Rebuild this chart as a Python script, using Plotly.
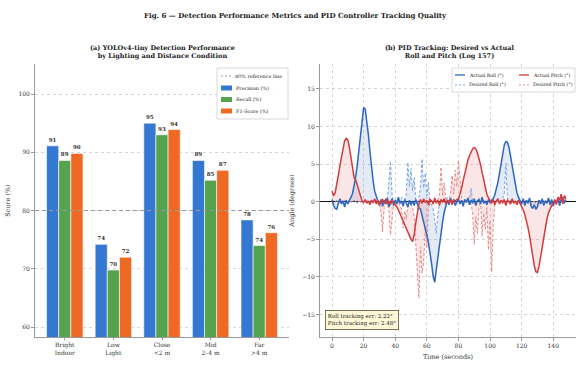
import plotly.graph_objects as go

# ---------------- data: detection metrics ----------------
conditions = ["Bright<br>Indoor", "Low<br>Light", "Close<br>&lt;2 m", "Mid<br>2–4 m", "Far<br>&gt;4 m"]
precision = [91.1, 74.2, 95.0, 88.6, 78.4]
recall = [88.6, 69.8, 93.0, 85.2, 74.0]
f1_score = [89.8, 72.0, 93.9, 86.9, 76.2]
reference_level = 80

# ---------------- data: PID tracking log (1 s samples) ----------------
time_s = list(range(0, 149))
actual_roll = [
    0.3, -0.5, -0.9, -1.0, -0.2, 0.4, -0.3, 0.1, -0.7, 0.2, -0.3, 0.3,
    0.6, 1.1, 2.0, 3.3, 4.9, 7.0, 9.3, 11.3, 12.5, 12.3, 10.8, 8.9, 6.7, 4.5, 2.8, 1.4, 0.6, 0.1,
    -0.4, 0.3, -0.6, 0.2, -0.3, 0.5, -0.7, -0.1, 0.4, -0.5, 0.2, -0.3, 0.6, -0.2, 0.1, -0.6,
    0.3, -0.2, -0.7, 0.2, -0.4, 0.1, -0.5, 0.3, -0.3, -0.8,
    -1.0, -1.8, -2.6, -3.5, -4.4, -5.4, -6.6, -8.2, -9.9, -10.7, -9.0, -7.2, -5.6, -4.0, -2.6, -1.4, -0.6,
    0.2, -0.4, 0.5, -0.2, 0.3, -0.5, 0.1, 0.4, -0.3, 0.2, -0.6, 0.3, -0.1, 0.5, -0.4, 0.2,
    -0.2, 0.4, -0.5, 0.1, 0.3, -0.3, 0.6, -0.2, 0.1, -0.4, 0.3, -0.1, 0.2,
    0.4, 0.9, 1.6, 2.6, 3.8, 5.2, 6.5, 7.5, 8.0, 7.9, 7.2, 6.0, 4.6, 3.3, 2.1, 1.2, 0.6, 0.2,
    -0.3, 0.4, -0.5, 0.2, -0.2, 0.5, -0.6, -0.9, -0.4, -1.0, -0.7, 0.2, -0.3, 0.4, -0.5,
    0.1, -0.2, 0.5, -0.4, 0.3, -0.6, 0.2, -0.1, 0.4, -0.5, 0.3, 0.6, -0.2, 0.3,
]
actual_pitch = [
    1.4, 0.8, 1.2, 2.2, 3.5, 4.8, 6.1, 7.3, 8.1, 8.4, 8.2, 7.2, 5.7, 4.3, 3.2, 2.9, 2.2, 1.2, 0.5, 0.1, -0.1,
    0.3, -0.2, 0.1, -0.4, 0.2, -0.1, 0.4, -0.3, 0.2, -0.5, 0.1, 0.3, -0.2, 0.4, -0.3, 0.1, -0.4, 0.2, -0.1,
    -0.3, -0.7, -1.1, -1.6, -2.1, -2.6, -3.0, -3.4, -3.9, -4.5, -5.0, -5.3, -4.4, -2.8, -1.2, -0.3,
    0.3, -0.2, 0.4, -0.1, 0.2, -0.4, 0.3, 0.1, -0.3, 0.5, -0.2, 0.2, -0.5, 0.3, 0.0, 0.4,
    -0.3, 0.2, -0.1, 0.3, -0.4, 0.2, 0.1, 0.3,
    0.3, 0.9, 1.8, 2.8, 3.8, 4.7, 5.5, 6.1, 6.6, 7.0, 7.2, 7.0, 6.5, 5.8, 4.9, 3.9, 2.8, 1.8, 1.0, 0.5, 0.2,
    -0.2, 0.3, -0.4, 0.1, 0.4, -0.3, 0.2, -0.1, 0.3, -0.5, 0.2, 0.0, -0.3, 0.4, -0.2, 0.1, -0.4, 0.2,
    -0.2, -0.6, -1.1, -1.7, -2.5, -3.4, -4.5, -5.9, -7.3, -8.5, -9.3, -9.4, -8.6, -7.4, -6.0, -4.6,
    -3.3, -2.3, -1.5, -0.9, -0.5, -0.2,
    0.3, -0.4, 0.6, 0.2, 1.0, -0.3, 0.8, 0.4,
]
desired_roll = [
    0.1, -0.2, 0.0, 0.2, -0.1, 0.1, 0.0, -0.2, 0.1, 0.2, -0.1, 0.0, 0.1, -0.1, 0.2, 0.0, -0.2, 0.1,
    0.0, 0.1, -0.1, 0.2, 0.0, -0.1, 0.1, 0.0, -0.2, 0.1, 0.2, -0.1, 0.0, 0.1, -0.3, 0.2, 0.0, 0.4,
    2.5, 5.4, 1.0,
    -0.2, 0.3, 0.0, -0.1, 0.2, 0.6, -0.2, 0.1,
    1.0, 5.2, 2.0, 4.4, 1.5, 3.2, 0.3,
    -0.4, 0.5,
    2.0, 5.7, 1.8, 3.8, 0.8, 2.6, -0.5,
    -0.3, -1.0, -2.5, -4.2, -1.5, -0.3,
    0.2, -0.1, 0.3, 0.0, 0.6, -0.2, 0.1, 0.0, -0.1, 0.2, 0.0, 0.1, -0.2, 0.1, 0.0, 0.2, -0.1, 0.0, 0.3,
    1.8,
    0.0, -0.2, 0.1, 0.0, 0.2, -0.1, 0.1, 0.0, -0.2, 0.1, 0.2, 0.0, -0.1, 0.1, 0.0, 0.2, -0.1, 0.0, 0.1, 0.4,
    1.0, 5.1, 0.5,
    -0.1, 0.2, 0.0, -0.1, 0.1, 0.0, 0.2, -0.2, 0.1, 0.0, -0.1, 0.1, 0.0, 0.2, -0.1, 0.0, 0.1, -0.2,
    0.0, 0.1, 0.0, -0.1, 0.2, 0.0, 0.1, -0.1, 0.0, 0.2, -0.1, 0.0, 0.1, 0.0, -0.2, 0.1, 0.0, 0.1, 0.0,
]
desired_pitch = [
    0.0, 0.2, -0.1, 0.1, 0.0, -0.2, 0.1, 0.0, 0.2, -0.1, 0.0, 0.1, -0.1, 0.0, 0.2, 0.0, -0.1, 0.1,
    0.0, -0.2, 0.1, 0.0, 0.1, -0.1, 0.0, 0.2, -0.1, 0.0, 0.1, -0.3, -0.2,
    -1.5, -4.0, -0.8,
    0.2, -0.3,
    -1.2, -4.4, -2.0, -0.3,
    0.1, -0.2, 0.0, -0.4,
    -1.0, -3.5, -1.2, -2.4, -0.4,
    0.1, -0.3, -0.8,
    -2.0, -5.5, -9.0, -12.8, -6.0, -9.5, -8.0, -3.5, -6.2, -1.0, -0.2,
    0.1, -0.1, 0.2, 0.0, 0.3,
    1.0, 4.6, 0.8, 2.5, 0.3,
    -0.1, 0.2,
    1.2, 3.5, 1.0, 4.2, 2.0, 5.5, 2.9, 0.5,
    0.0, -0.2, 0.1, 0.0, -0.1, -0.3,
    -1.5, -5.7, -2.0, -4.2, -0.8, 0.1, -4.6, -1.5, -3.7, -0.8, -6.4, -2.5, -9.3, -3.0, -0.3,
    0.1, 0.0, -0.1, 0.2, 0.0, -0.2, 0.1, 0.0, 0.1, -0.1, 0.0, 0.2, -0.1, 0.0, 0.1, -0.2, 0.0, 0.1,
    0.0, -0.1, 0.2, 0.0, -0.1, 0.1, 0.0, -0.2, 0.1, 0.0, 0.2, -0.1, 0.0, 0.1, -0.1, 0.0, 0.2, -0.3,
    0.1, 0.0, -0.2, 0.1, 0.0, 0.2, -0.1, 0.0, 0.1,
]
roll_err_deg = 2.22
pitch_err_deg = 2.48

# ---------------- styling ----------------
FONT = "DejaVu Serif"
TXT = "#333333"
C_PREC, C_REC, C_F1 = "#3478d1", "#55a24f", "#ee6a24"
C_ROLL, C_PITCH = "#2c68c0", "#d63a3a"
C_ROLL_D, C_PITCH_D = "#7aa6de", "#e88a8a"
W, H = 576, 367


def px(x):
    return x / W


def py(y):
    return 1 - y / H


fig = go.Figure()

# ---- panel (a): grouped bars ----
for name, vals, col in [("Precision (%)", precision, C_PREC),
                        ("Recall (%)", recall, C_REC),
                        ("F1-Score (%)", f1_score, C_F1)]:
    fig.add_trace(go.Bar(
        x=conditions, y=vals, name=name, marker=dict(color=col, line=dict(color="white", width=0.6)),
        texttemplate="<b>%{y:.0f}</b>", textposition="outside", cliponaxis=False,
        textfont=dict(size=5.5, color=TXT, family=FONT),
        xaxis="x", yaxis="y", showlegend=False,
    ))

fig.add_shape(type="line", xref="x domain", yref="y", x0=0, x1=1,
              y0=reference_level, y1=reference_level,
              line=dict(color="#9a9a9a", width=1, dash="4px,3px"))

# ---- panel (b): tracking traces ----
fills = [(desired_roll, actual_roll, "rgba(44,104,192,0.13)"),
         (desired_pitch, actual_pitch, "rgba(214,58,58,0.13)")]
for des, act, fc in fills:
    fig.add_trace(go.Scatter(x=time_s, y=des, mode="lines", line=dict(width=0),
                             xaxis="x2", yaxis="y2", showlegend=False, hoverinfo="skip"))
    fig.add_trace(go.Scatter(x=time_s, y=act, mode="lines", line=dict(width=0), fill="tonexty",
                             fillcolor=fc, xaxis="x2", yaxis="y2", showlegend=False, hoverinfo="skip"))

fig.add_trace(go.Scatter(x=time_s, y=desired_roll, mode="lines", name="Desired Roll (°)",
                         line=dict(color=C_ROLL_D, width=1, dash="3px,2px"),
                         xaxis="x2", yaxis="y2", showlegend=False))
fig.add_trace(go.Scatter(x=time_s, y=desired_pitch, mode="lines", name="Desired Pitch (°)",
                         line=dict(color=C_PITCH_D, width=1, dash="3px,2px"),
                         xaxis="x2", yaxis="y2", showlegend=False))
fig.add_trace(go.Scatter(x=time_s, y=actual_roll, mode="lines", name="Actual Roll (°)",
                         line=dict(color=C_ROLL, width=1.5),
                         xaxis="x2", yaxis="y2", showlegend=False))
fig.add_trace(go.Scatter(x=time_s, y=actual_pitch, mode="lines", name="Actual Pitch (°)",
                         line=dict(color=C_PITCH, width=1.5),
                         xaxis="x2", yaxis="y2", showlegend=False))

# ---------------- axes ----------------
tickfont = dict(size=6, color=TXT, family=FONT)
titlefont = dict(size=6.5, color=TXT, family=FONT)
grid = dict(showgrid=True, gridcolor="#d6d6d6", gridwidth=0.8, griddash="dot")
spine = dict(showline=True, linecolor="#9a9a9a", linewidth=0.9, mirror=False)

fig.update_layout(
    xaxis=dict(domain=[px(35), px(289)], range=[-0.6125, 4.6125], tickfont=tickfont,
               showgrid=False, ticks="outside", ticklen=2, tickcolor="#9a9a9a", **spine),
    yaxis=dict(domain=[py(337), py(64)], range=[58.3, 105.15], tickvals=[60, 70, 80, 90, 100],
               tickfont=tickfont, ticks="outside", ticklen=3, tickcolor="#9a9a9a",
               title=dict(text="Score (%)", font=titlefont, standoff=7), zeroline=False,
               **grid, **spine),
    xaxis2=dict(domain=[px(320), 1.0], range=[-7.6, 154.4], tickvals=list(range(0, 141, 20)),
                tickfont=tickfont, ticks="outside", ticklen=3, tickcolor="#9a9a9a",
                title=dict(text="Time (seconds)", font=titlefont, standoff=6), zeroline=False,
                anchor="y2", **grid, **spine),
    yaxis2=dict(domain=[py(337), py(64)], range=[-17.97, 18.29], tickvals=[-15, -10, -5, 0, 5, 10, 15],
                tickfont=tickfont, ticks="outside", ticklen=3, tickcolor="#9a9a9a",
                title=dict(text="Angle (degrees)", font=titlefont, standoff=6),
                zeroline=True, zerolinecolor="#111111", zerolinewidth=1,
                anchor="x2", **grid, **spine),
    barmode="group", bargap=0.25, bargroupgap=0.0,
    width=W, height=H, autosize=False,
    margin=dict(l=0, r=0, t=0, b=0),
    paper_bgcolor="white", plot_bgcolor="white",
    font=dict(family=FONT, color=TXT),
    showlegend=False,
)

# ---------------- titles ----------------
annotations = [
    dict(text="<b>Fig. 6 — Detection Performance Metrics and PID Controller Tracking Quality</b>",
         x=px(295), y=py(15), font=dict(size=7, family=FONT, color="#222")),
    dict(text="<b>(a) YOLOv4-tiny Detection Performance<br>by Lighting and Distance Condition</b>",
         x=px(162), y=py(52), font=dict(size=6.5, family=FONT, color="#222")),
    dict(text="<b>(b) PID Tracking: Desired vs Actual<br>Roll and Pitch (Log 157)</b>",
         x=px(450), y=py(52), font=dict(size=6.5, family=FONT, color="#222")),
]
for a in annotations:
    fig.add_annotation(xref="paper", yref="paper", showarrow=False, xanchor="center",
                       yanchor="middle", **a)

# tracking-error box
fig.add_annotation(
    xref="paper", yref="paper", x=px(325), y=py(310), xanchor="left", yanchor="top",
    text=f"Roll tracking err: {roll_err_deg:.2f}°<br>Pitch tracking err: {pitch_err_deg:.2f}°",
    showarrow=False, align="left", font=dict(size=5.5, family=FONT, color="#222"),
    bgcolor="#fdf7d8", bordercolor="#55553a", borderwidth=0.8, borderpad=2,
)

# ---------------- legends ----------------


def legend_box(x0, y0, x1, y1):
    fig.add_shape(type="rect", xref="paper", yref="paper", x0=px(x0), x1=px(x1),
                  y0=py(y1), y1=py(y0), fillcolor="rgba(255,255,255,0.9)",
                  line=dict(color="#d0d0d0", width=0.8), layer="above")


def legend_line(x, y, label, color, size, dash="solid", width=1.3):
    fig.add_shape(type="line", xref="paper", yref="paper", x0=px(x), x1=px(x + 10),
                  y0=py(y), y1=py(y), line=dict(color=color, width=width, dash=dash), layer="above")
    fig.add_annotation(xref="paper", yref="paper", x=px(x + 12), y=py(y), xanchor="left",
                       yanchor="middle", text=label, showarrow=False,
                       font=dict(size=size, family=FONT, color="#222"))


def legend_patch(x, y, label, color, size):
    fig.add_shape(type="rect", xref="paper", yref="paper", x0=px(x), x1=px(x + 11),
                  y0=py(y + 2.5), y1=py(y - 2.5), fillcolor=color, line=dict(width=0), layer="above")
    fig.add_annotation(xref="paper", yref="paper", x=px(x + 13), y=py(y), xanchor="left",
                       yanchor="middle", text=label, showarrow=False,
                       font=dict(size=size, family=FONT, color="#222"))


legend_box(217, 68, 288, 119)
legend_line(221, 76, "80% reference line", "#9a9a9a", 4.9, dash="2px,2px", width=1)
legend_patch(221, 88, "Precision (%)", C_PREC, 4.9)
legend_patch(221, 99.5, "Recall (%)", C_REC, 4.9)
legend_patch(221, 111, "F1-Score (%)", C_F1, 4.9)

legend_box(452, 68, 575, 92)
legend_line(455, 75, "Actual Roll (°)", C_ROLL, 4.7)
legend_line(455, 85, "Desired Roll (°)", C_ROLL_D, 4.7, dash="2px,2px", width=1)
legend_line(519, 75, "Actual Pitch (°)", C_PITCH, 4.7)
legend_line(519, 85, "Desired Pitch (°)", C_PITCH_D, 4.7, dash="2px,2px", width=1)

fig.write_html("out.html")
